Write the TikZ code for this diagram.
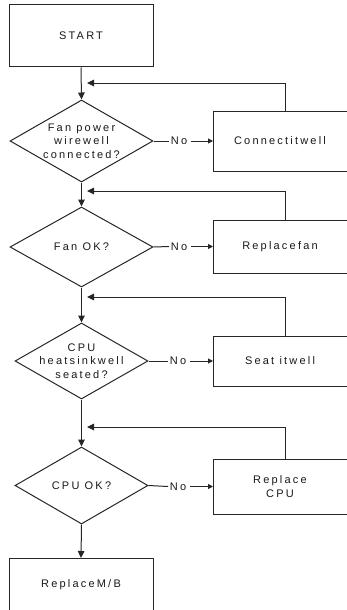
\documentclass[tikz,border=0pt]{standalone}
\usepackage{fontspec}
\setmainfont[LetterSpace=20]{Liberation Sans}
\usetikzlibrary{shapes.geometric,arrows.meta}
\tikzset{
  ln/.style={line width=1pt,draw=black!85},
  arr/.style={ln,-{Triangle[length=7pt,width=6.5pt]}},
  sarr/.style={ln,-{Triangle[length=5pt,width=5pt]}},
  box/.style={ln,rectangle,inner sep=0pt,fill=white},
  dia/.style={ln,diamond,inner sep=0pt,aspect=1.74},
  txt/.style={font=\fontsize{11}{13.5}\selectfont,align=center,text=black!90,inner sep=0pt},
  nolab/.style={font=\fontsize{11}{13}\selectfont,text=black!90,inner sep=0pt}
}
\begin{document}
\begin{tikzpicture}[x=1pt,y=-1pt]
\useasboundingbox (0,0) rectangle (346,610);
% main column
\node[box,minimum width=144pt,minimum height=62pt] (start) at (81,36) {};
\node[txt] at (start) {START};
\node[dia,minimum width=143pt,minimum height=82pt] (d1) at (81.5,141) {};
\node[txt] at (d1) {Fan power\\wirewell\\connected?};
\node[dia,minimum width=143pt,minimum height=80pt] (d2) at (81.5,247) {};
\node[txt] at (d2) {Fan OK?};
\node[dia,minimum width=133pt,minimum height=76pt] (d3) at (81.5,361) {};
\node[txt] at (d3) {CPU\\heatsinkwell\\seated?};
\node[dia,minimum width=133pt,minimum height=77pt] (d4) at (81.5,485.5) {};
\node[txt] at (d4) {CPU OK?};
\node[box,minimum width=144pt,minimum height=60pt,anchor=north] (mb) at (81,558) {};
\node[txt] at (81,585) {ReplaceM/B};
% right boxes
\node[box,minimum width=136pt,minimum height=60pt,anchor=west] (c1) at (213,141) {};
\node[txt] at (280,141) {Connectitwell};
\node[box,minimum width=136pt,minimum height=53pt,anchor=west] (c2) at (213,246.5) {};
\node[txt] at (280,246.5) {Replacefan};
\node[box,minimum width=136pt,minimum height=50pt,anchor=west] (c3) at (213,361) {};
\node[txt] at (280,361) {Seat itwell};
\node[box,minimum width=136pt,minimum height=55pt,anchor=west] (c4) at (213,486.5) {};
\node[txt] at (280,486.5) {Replace\\CPU};
% No labels
\node[nolab] (n1) at (179,141) {No};
\node[nolab] (n2) at (179,246.5) {No};
\node[nolab] (n3) at (178,361) {No};
\node[nolab] (n4) at (178,486.5) {No};
\foreach \d/\n/\c in {d1/n1/c1,d2/n2/c2,d3/n3/c3,d4/n4/c4}{
  \draw[ln] (\d.east) -- ([xshift=-1.5pt]\n.west);
  \draw[sarr] ([xshift=4pt]\n.east) -- (\c.west);
}
% down arrows
\draw[arr] (start.south) -- (d1.north);
\draw[arr] (d1.south) -- (d2.north);
\draw[arr] (d2.south) -- (d3.north);
\draw[arr] (d3.south) -- (d4.north);
\draw[arr] (d4.south) -- (mb.north);
% feedback arrows
\coordinate (f1) at (87,83);
\coordinate (f2) at (87,191);
\coordinate (f3) at (87,297);
\coordinate (f4) at (87,427);
\draw[arr] ([xshift=3.5pt]c1.north) |- (f1);
\draw[arr] ([xshift=3.5pt]c2.north) |- (f2);
\draw[arr] ([xshift=3.5pt]c3.north) |- (f3);
\draw[arr] ([xshift=3.5pt]c4.north) |- (f4);
\end{tikzpicture}
\end{document}
